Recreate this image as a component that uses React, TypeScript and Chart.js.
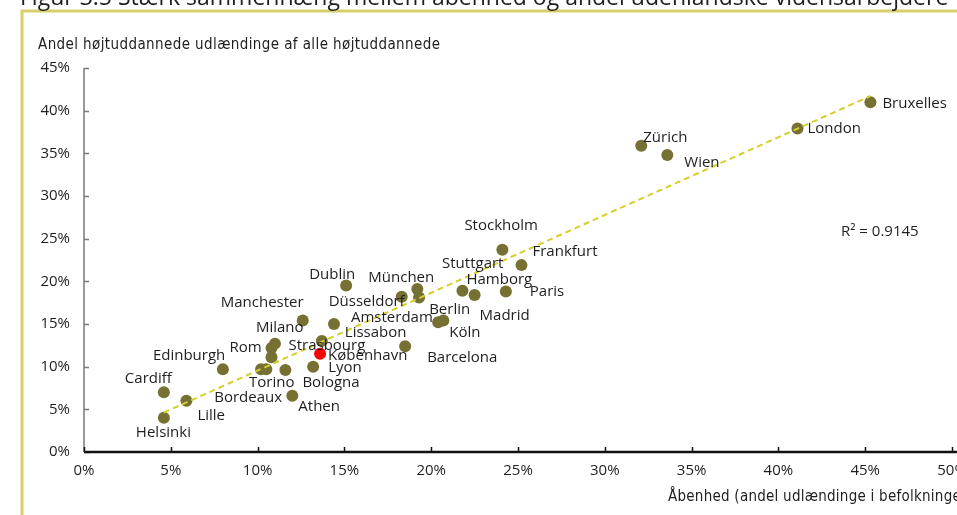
import { useEffect, useRef } from "react";
import { Chart, registerables } from "chart.js";

Chart.register(...registerables);

// ---------- DATA ----------
const cities = [
  "Bruxelles", "London", "Zürich", "Wien", "Stockholm", "Frankfurt", "Paris",
  "Hamborg", "Madrid", "München", "Stuttgart", "Düsseldorf", "Berlin", "Köln",
  "Barcelona", "Dublin", "Amsterdam", "Manchester", "Lissabon", "København",
  "Lyon", "Bologna", "Milano", "Rom", "Strasbourg", "Torino", "Bordeaux",
  "Athen", "Edinburgh", "Cardiff", "Lille", "Helsinki",
];
// Åbenhed (andel udlændinge i befolkningen), %
const openness = [
  45.3, 41.1, 32.1, 33.6, 24.1, 25.2, 24.3,
  21.8, 22.5, 19.2, 19.3, 18.3, 20.4, 20.7,
  18.5, 15.1, 14.4, 12.6, 13.7, 13.6,
  13.2, 11.6, 11.0, 10.8, 10.8, 10.2, 10.5,
  12.0, 8.0, 4.6, 5.9, 4.6,
];
// Andel højtuddannede udlændinge af alle højtuddannede, %
const foreignShare = [
  41.0, 37.9, 35.9, 34.8, 23.7, 21.9, 18.8,
  18.9, 18.4, 19.1, 18.1, 18.2, 15.2, 15.4,
  12.4, 19.5, 15.0, 15.4, 13.0, 11.5,
  10.0, 9.6, 12.7, 12.2, 11.1, 9.7, 9.7,
  6.6, 9.7, 7.0, 6.0, 4.0,
];
const highlightCity = "København";
const xTickValues = [0, 5, 10, 15, 20, 25, 30, 35, 40, 45, 50];
const yTickValues = [0, 5, 10, 15, 20, 25, 30, 35, 40, 45];
const rSquaredLabel = "R² = 0.9145";
const figureTitle =
  "Figur 3.5 Stærk sammenhæng mellem åbenhed og andel udenlandske vidensarbejdere";
const yAxisTitle = "Andel højtuddannede udlændinge af alle højtuddannede";
const xAxisTitle = "Åbenhed (andel udlændinge i befolkningen)";

// ---------- STYLE ----------
const labelOffsets: Record<string, [number, number]> = {
  Bruxelles: [12, 2], London: [10, 0], "Zürich": [2, -8], Wien: [17, 8],
  Stockholm: [-38, -24], Frankfurt: [11, -13], Paris: [24, 0],
  Hamborg: [4, -11], Madrid: [5, 21], "München": [-49, -11],
  Stuttgart: [23, -34], "Düsseldorf": [-73, 5], Berlin: [-9, -13],
  "Köln": [6, 12], Barcelona: [22, 12], Dublin: [-37, -11],
  Amsterdam: [17, -6], Manchester: [-82, -18], Lissabon: [23, -8],
  "København": [8, 2], Lyon: [15, 1], Bologna: [17, 13], Milano: [-19, -16],
  Rom: [-42, 0], Strasbourg: [17, -12], Torino: [-12, 14], Bordeaux: [-52, 29],
  Athen: [6, 11], Edinburgh: [-70, -13], Cardiff: [-39, -14], Lille: [11, 15],
  Helsinki: [-28, 15],
};

const OLIVE = "#777033";
const FRAME = "#d6cf6b";
const TREND = "#d3cf2c";
const TEXT = "#1e1e1e";
const LABEL_FONT = "15px 'Open Sans', 'Noto Sans', sans-serif";
const TITLE_FONT = "15px 'DejaVu Sans Condensed', 'Liberation Sans Narrow', sans-serif";

const CANVAS_W = 1010;
const CANVAS_H = 515;

function regression(xs: number[], ys: number[]) {
  const n = xs.length;
  const mx = xs.reduce((a, b) => a + b, 0) / n;
  const my = ys.reduce((a, b) => a + b, 0) / n;
  let sxy = 0, sxx = 0;
  for (let i = 0; i < n; i++) {
    sxy += (xs[i] - mx) * (ys[i] - my);
    sxx += (xs[i] - mx) ** 2;
  }
  const slope = sxy / sxx;
  return { slope, intercept: my - slope * mx };
}

const decorPlugin = {
  id: "decor",
  beforeDatasetsDraw(chart: any) {
    const { ctx, chartArea, scales } = chart;
    const xs = scales.x, ys = scales.y;
    ctx.save();
    // frame
    ctx.strokeStyle = FRAME;
    ctx.lineWidth = 3;
    ctx.beginPath();
    ctx.moveTo(22, CANVAS_H + 5);
    ctx.lineTo(22, 11);
    ctx.lineTo(CANVAS_W, 11);
    ctx.stroke();
    // figure title (cut at top)
    ctx.fillStyle = TEXT;
    ctx.font = "23px 'Open Sans', 'Noto Sans', sans-serif";
    ctx.textAlign = "left";
    ctx.textBaseline = "alphabetic";
    ctx.fillText(figureTitle, 20, 5);
    // axis titles
    ctx.font = TITLE_FONT;
    ctx.textBaseline = "middle";
    (ctx as any).letterSpacing = "0.4px";
    ctx.fillText(yAxisTitle, 38, 45);
    (ctx as any).letterSpacing = "0.25px";
    ctx.fillText(xAxisTitle, 668, 497);
    (ctx as any).letterSpacing = "0px";
    // y axis
    ctx.strokeStyle = "#7a7a7a";
    ctx.lineWidth = 1.5;
    ctx.beginPath();
    ctx.moveTo(chartArea.left, ys.getPixelForValue(45));
    ctx.lineTo(chartArea.left, chartArea.bottom);
    for (const v of yTickValues) {
      const py = Math.round(ys.getPixelForValue(v)) + 0.5;
      ctx.moveTo(chartArea.left, py);
      ctx.lineTo(chartArea.left + 5, py);
    }
    ctx.stroke();
    // x axis
    ctx.strokeStyle = "#111";
    ctx.lineWidth = 1.5;
    ctx.beginPath();
    for (const v of xTickValues) {
      const px = Math.round(xs.getPixelForValue(v)) + 0.5;
      ctx.moveTo(px, chartArea.bottom);
      ctx.lineTo(px, chartArea.bottom - 5);
    }
    ctx.stroke();
    ctx.lineWidth = 2.5;
    ctx.beginPath();
    ctx.moveTo(chartArea.left, chartArea.bottom);
    ctx.lineTo(CANVAS_W, chartArea.bottom);
    ctx.stroke();
    ctx.restore();
  },
  afterDatasetsDraw(chart: any) {
    const { ctx, scales } = chart;
    ctx.save();
    ctx.fillStyle = TEXT;
    ctx.font = LABEL_FONT;
    ctx.textAlign = "left";
    ctx.textBaseline = "middle";
    cities.forEach((c, i) => {
      const px = scales.x.getPixelForValue(openness[i]);
      const py = scales.y.getPixelForValue(foreignShare[i]);
      const [dx, dy] = labelOffsets[c] || [8, 0];
      ctx.fillText(c, px + dx, py + dy);
    });
    ctx.fillText(rSquaredLabel, 841, 232);
    ctx.restore();
  },
};

export default function App() {
  const ref = useRef<HTMLCanvasElement>(null);
  useEffect(() => {
    document.body.style.margin = "0";
    const { slope, intercept } = regression(openness, foreignShare);
    const xMin = Math.min(...openness);
    const xMax = Math.max(...openness);
    const chart = new Chart(ref.current!, {
      type: "scatter",
      data: {
        datasets: [
          {
            type: "line",
            data: [
              { x: xMin, y: slope * xMin + intercept },
              { x: xMax, y: slope * xMax + intercept },
            ],
            borderColor: TREND,
            borderWidth: 2,
            borderDash: [6, 4],
            pointRadius: 0,
            fill: false,
            order: 0,
          } as any,
          {
            data: cities.map((c, i) => ({ x: openness[i], y: foreignShare[i] })),
            pointRadius: 6,
            pointBackgroundColor: cities.map((c) => (c === highlightCity ? "#ff0000" : OLIVE)),
            pointBorderColor: cities.map((c) => (c === highlightCity ? "#ff0000" : OLIVE)),
            pointBorderWidth: 0,
            order: 1,
          },
        ],
      },
      options: {
        responsive: false,
        animation: false,
        devicePixelRatio: 1,
        layout: { padding: { left: 0, top: 68, right: CANVAS_W - 952, bottom: 0 } },
        plugins: { legend: { display: false }, tooltip: { enabled: false }, title: { display: false } },
        scales: {
          x: {
            type: "linear",
            min: 0,
            max: 50,
            afterFit: (s: any) => { s.height = CANVAS_H - 452; },
            afterBuildTicks: (s: any) => { s.ticks = xTickValues.map((v) => ({ value: v })); },
            ticks: {
              callback: (v: any) => v + "%",
              color: TEXT,
              font: { family: "'Open Sans', 'Noto Sans', sans-serif", size: 15 },
              padding: 10,
              maxRotation: 0,
            },
            grid: { display: false, drawTicks: false },
            border: { display: false },
          },
          y: {
            type: "linear",
            min: 0,
            max: 45,
            afterFit: (s: any) => { s.width = 84; },
            afterBuildTicks: (s: any) => { s.ticks = yTickValues.map((v) => ({ value: v })); },
            ticks: {
              callback: (v: any) => v + "%",
              color: TEXT,
              font: { family: "'Open Sans', 'Noto Sans', sans-serif", size: 15 },
              padding: 14,
            },
            grid: { display: false, drawTicks: false },
            border: { display: false },
          },
        },
      },
      plugins: [decorPlugin],
    });
    return () => chart.destroy();
  }, []);
  return (
    <div
      style={{
        position: "fixed",
        left: 0,
        top: 0,
        width: 957,
        height: 515,
        overflow: "hidden",
        background: "#fff",
      }}
    >
      <canvas ref={ref} width={CANVAS_W} height={CANVAS_H} style={{ width: CANVAS_W, height: CANVAS_H, display: "block" }} />
    </div>
  );
}
